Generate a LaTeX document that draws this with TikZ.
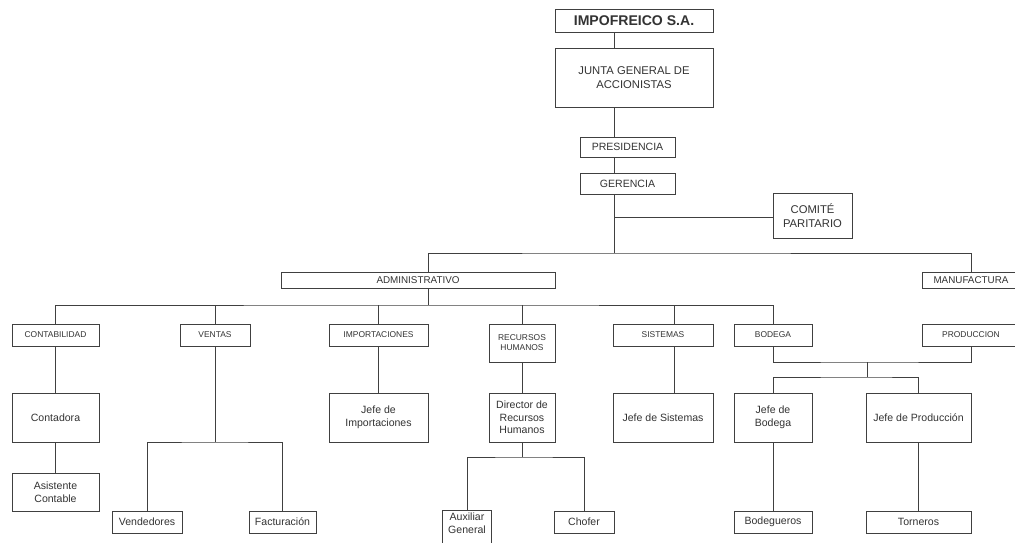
\documentclass[tikz,border=0pt]{standalone}
\usepackage{fontspec}
\setmainfont{Liberation Sans}

\begin{document}
\begin{tikzpicture}[x=0.025cm,y=-0.025cm,
    linea/.style={draw=black!75,line width=0.7pt},
    caja/.style={draw=black!75,line width=0.7pt,inner sep=1pt,align=center,text=black!80,font=\fontsize{7.5}{9}\selectfont},
    cabeza/.style={caja,font=\fontsize{6}{7}\selectfont},
    titulo/.style={caja,font=\bfseries\fontsize{10}{12}\selectfont},
    tam/.style 2 args={minimum width=#1*0.025cm,minimum height=#2*0.025cm}]
    \fill[white] (0,0) rectangle (1015,542);
    \useasboundingbox (0,0) rectangle (1015,542);
    % direccion
    \node[titulo,tam={158}{23}] (empresa) at (634,20.5) {IMPOFREICO S.A.};
    \node[caja,tam={158}{59},font=\fontsize{8}{9.5}\selectfont] (junta) at (634,77.5) {JUNTA GENERAL DE\\ACCIONISTAS};
    \node[caja,tam={95}{20}] (presi) at (627.5,147) {PRESIDENCIA};
    \node[caja,tam={95}{21}] (geren) at (627.5,183.5) {GERENCIA};
    \node[caja,tam={79}{45},font=\fontsize{8}{9.5}\selectfont] (comite) at (812.5,215.5) {COMITÉ\\PARITARIO};
    \node[caja,tam={274}{16},font=\fontsize{7}{8}\selectfont] (admin) at (418,280) {ADMINISTRATIVO};
    \node[caja,tam={98}{16},font=\fontsize{7}{8}\selectfont] (manuf) at (971,280) {MANUFACTURA};
    % departamentos
    \node[cabeza,tam={87}{22}] (conta) at (55.5,335) {CONTABILIDAD};
    \node[cabeza,tam={70}{22}] (ventas) at (215,335) {VENTAS};
    \node[cabeza,tam={99}{22}] (import) at (378.5,335) {IMPORTACIONES};
    \node[cabeza,tam={66}{38}] (rrhh) at (522,343) {RECURSOS\\HUMANOS};
    \node[cabeza,tam={100}{22}] (sist) at (663,335) {SISTEMAS};
    \node[cabeza,tam={78}{22}] (bodega) at (773,335) {BODEGA};
    \node[cabeza,tam={98}{22}] (prod) at (971,335) {PRODUCCION};
    % jefaturas
    \node[caja,tam={87}{49}] (contadora) at (55.5,417.5) {Contadora};
    \node[caja,tam={99}{49}] (jimport) at (378.5,417.5) {Jefe de\\Importaciones};
    \node[caja,tam={66}{49}] (director) at (522,417.5) {Director de\\Recursos\\Humanos};
    \node[caja,tam={100}{49}] (jsist) at (663,417.5) {Jefe de Sistemas};
    \node[caja,tam={78}{49}] (jbodega) at (773,417.5) {Jefe de\\Bodega};
    \node[caja,tam={105}{49}] (jprod) at (918.5,417.5) {Jefe de Producción};
    % personal
    \node[caja,tam={87}{38}] (asistente) at (55.5,492) {Asistente\\Contable};
    \node[caja,tam={70}{22}] (vend) at (147,522) {Vendedores};
    \node[caja,tam={67}{22}] (fact) at (282.5,522) {Facturación};
    \node[caja,draw=none,tam={48}{24}] (aux) at (467,523) {Auxiliar\\General};
    \node[caja,tam={60}{22}] (chofer) at (584,522) {Chofer};
    \node[caja,tam={78}{22}] (bodegueros) at (773,522) {Bodegueros};
    \node[caja,tam={105}{22}] (torneros) at (918.5,522) {Torneros};
    \draw[linea] (aux.south west) ++(0,15) |- (aux.north east) -- ++(0,39);
    % puntos de union
    \coordinate (eje) at (614,0);
    \coordinate (colAdm) at (428,0);
    \coordinate (colSis) at (674,0);
    \coordinate (rama) at (614,217);
    \coordinate (bus) at (614,253);
    \coordinate (sub) at (428,305);
    \coordinate (vbus) at (215,442);
    \coordinate (dbus) at (522,457);
    \coordinate (pbus) at (867,362);
    \coordinate (jbus) at (867,377);
    % conexiones
    \draw[linea] (empresa.south -| eje) -- (junta.north -| eje);
    \draw[linea] (junta.south -| eje) -- (presi.north -| eje);
    \draw[linea] (presi.south -| eje) -- (geren.north -| eje);
    \draw[linea] (geren.south -| eje) -- (bus);
    \draw[linea] (rama) -- (rama -| comite.west);
    \draw[linea] (admin.north -| colAdm) |- (bus) -| (manuf.north);
    \draw[linea] (admin.south -| colAdm) -- (sub);
    \draw[linea] (conta.north) |- (sub) -| (bodega.north);
    \foreach \n in {ventas,import,rrhh}
      {\draw[linea] (\n.north) -- (\n.north |- sub);}
    \draw[linea] (sist.north -| colSis) -- (colSis |- sub);
    \draw[linea] (conta) -- (contadora) -- (asistente);
    \draw[linea] (import) -- (jimport);
    \draw[linea] (rrhh) -- (director);
    \draw[linea] (sist.south -| colSis) -- (jsist.north -| colSis);
    \draw[linea] (ventas.south) -- (vbus);
    \draw[linea] (vend.north) |- (vbus) -| (fact.north);
    \draw[linea] (director) -- (dbus);
    \draw[linea] (aux.north) |- (dbus) -| (chofer.north);
    \draw[linea] (bodega.south) |- (pbus) -| (prod.south);
    \draw[linea] (pbus) -- (jbus);
    \draw[linea] (jbodega.north) |- (jbus) -| (jprod.north);
    \draw[linea] (jbodega) -- (bodegueros);
    \draw[linea] (jprod) -- (torneros);
\end{tikzpicture}
\end{document}
